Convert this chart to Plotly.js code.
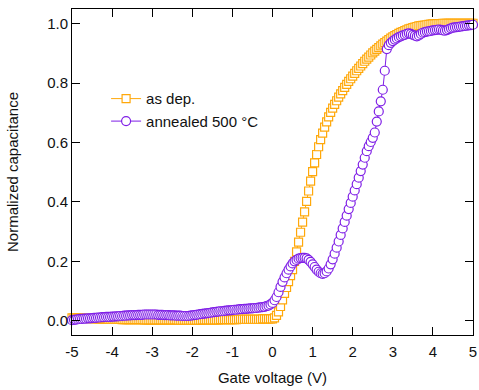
<!DOCTYPE html>
<html>
<head>
<meta charset="utf-8">
<script src="https://cdn.plot.ly/plotly-3.0.1.min.js"></script>
<style>html,body{margin:0;padding:0;background:#fff;}#chart{width:479px;height:390px;}</style>
</head>
<body>
<div id="chart"></div>
<script>
// Gate voltage sweep (V)
const gateVoltage = [
-5.00,-4.95,-4.90,-4.85,-4.80,-4.75,-4.70,-4.65,-4.60,-4.55,
-4.50,-4.45,-4.40,-4.35,-4.30,-4.25,-4.20,-4.15,-4.10,-4.05,
-4.00,-3.95,-3.90,-3.85,-3.80,-3.75,-3.70,-3.65,-3.60,-3.55,
-3.50,-3.45,-3.40,-3.35,-3.30,-3.25,-3.20,-3.15,-3.10,-3.05,
-3.00,-2.95,-2.90,-2.85,-2.80,-2.75,-2.70,-2.65,-2.60,-2.55,
-2.50,-2.45,-2.40,-2.35,-2.30,-2.25,-2.20,-2.15,-2.10,-2.05,
-2.00,-1.95,-1.90,-1.85,-1.80,-1.75,-1.70,-1.65,-1.60,-1.55,
-1.50,-1.45,-1.40,-1.35,-1.30,-1.25,-1.20,-1.15,-1.10,-1.05,
-1.00,-0.95,-0.90,-0.85,-0.80,-0.75,-0.70,-0.65,-0.60,-0.55,
-0.50,-0.45,-0.40,-0.35,-0.30,-0.25,-0.20,-0.15,-0.10,-0.05,
0.00,0.05,0.10,0.15,0.20,0.25,0.30,0.35,0.40,0.45,
0.50,0.55,0.60,0.65,0.70,0.75,0.80,0.85,0.90,0.95,
1.00,1.05,1.10,1.15,1.20,1.25,1.30,1.35,1.40,1.45,
1.50,1.55,1.60,1.65,1.70,1.75,1.80,1.85,1.90,1.95,
2.00,2.05,2.10,2.15,2.20,2.25,2.30,2.35,2.40,2.45,
2.50,2.55,2.60,2.65,2.70,2.75,2.80,2.85,2.90,2.95,
3.00,3.05,3.10,3.15,3.20,3.25,3.30,3.35,3.40,3.45,
3.50,3.55,3.60,3.65,3.70,3.75,3.80,3.85,3.90,3.95,
4.00,4.05,4.10,4.15,4.20,4.25,4.30,4.35,4.40,4.45,
4.50,4.55,4.60,4.65,4.70,4.75,4.80,4.85,4.90,4.95,
5.00];

// Normalized capacitance, as deposited
const asDep = [
0.010,0.010,0.009,0.009,0.009,0.008,0.008,0.008,0.008,0.007,
0.007,0.007,0.007,0.006,0.006,0.006,0.006,0.006,0.005,0.005,
0.005,0.005,0.005,0.005,0.005,0.004,0.004,0.004,0.004,0.004,
0.004,0.004,0.004,0.004,0.004,0.004,0.003,0.003,0.003,0.003,
0.003,0.003,0.003,0.003,0.003,0.003,0.003,0.003,0.003,0.003,
0.003,0.003,0.003,0.002,0.002,0.002,0.002,0.002,0.002,0.002,
0.002,0.002,0.002,0.002,0.002,0.003,0.003,0.003,0.003,0.003,
0.003,0.003,0.003,0.003,0.004,0.004,0.004,0.004,0.004,0.004,
0.004,0.004,0.004,0.005,0.005,0.005,0.005,0.005,0.005,0.005,
0.005,0.005,0.005,0.005,0.005,0.006,0.006,0.006,0.006,0.006,
0.006,0.010,0.018,0.030,0.048,0.070,0.092,0.112,0.132,0.152,
0.172,0.200,0.232,0.265,0.298,0.332,0.367,0.402,0.437,0.470,
0.502,0.532,0.560,0.586,0.610,0.632,0.652,0.670,0.687,0.702,
0.716,0.729,0.741,0.753,0.764,0.775,0.786,0.796,0.806,0.815,
0.824,0.833,0.842,0.850,0.858,0.866,0.874,0.881,0.888,0.895,
0.902,0.908,0.914,0.920,0.926,0.932,0.937,0.942,0.947,0.952,
0.956,0.960,0.964,0.968,0.971,0.974,0.977,0.980,0.983,0.985,
0.987,0.989,0.991,0.993,0.994,0.995,0.996,0.997,0.998,0.999,
1.000,1.000,1.001,1.001,1.001,1.002,1.002,1.002,1.002,1.002,
1.002,1.002,1.002,1.002,1.002,1.002,1.002,1.002,1.002,1.002,
1.002];

// Normalized capacitance, annealed 500 °C
const annealed = [
0.002,0.003,0.004,0.005,0.006,0.006,0.007,0.007,0.008,0.008,
0.009,0.010,0.010,0.011,0.011,0.012,0.012,0.013,0.013,0.013,
0.014,0.014,0.015,0.015,0.016,0.016,0.017,0.017,0.018,0.018,
0.019,0.019,0.019,0.020,0.020,0.020,0.021,0.021,0.021,0.021,
0.021,0.021,0.021,0.020,0.020,0.020,0.019,0.019,0.019,0.018,
0.018,0.018,0.017,0.017,0.017,0.016,0.016,0.016,0.016,0.017,
0.018,0.019,0.020,0.021,0.022,0.023,0.024,0.025,0.026,0.027,
0.028,0.029,0.030,0.031,0.032,0.032,0.033,0.034,0.035,0.035,
0.036,0.037,0.037,0.038,0.039,0.039,0.040,0.040,0.041,0.042,
0.042,0.043,0.043,0.044,0.045,0.046,0.047,0.049,0.051,0.055,
0.060,0.069,0.080,0.096,0.114,0.131,0.146,0.160,0.172,0.183,
0.193,0.200,0.205,0.209,0.211,0.212,0.212,0.210,0.205,0.198,
0.190,0.181,0.172,0.165,0.160,0.158,0.160,0.166,0.176,0.190,
0.207,0.226,0.246,0.267,0.289,0.311,0.333,0.354,0.376,0.397,
0.418,0.439,0.460,0.482,0.504,0.526,0.549,0.571,0.588,0.602,
0.616,0.634,0.671,0.705,0.739,0.778,0.842,0.915,0.928,0.936,
0.942,0.947,0.951,0.955,0.958,0.961,0.963,0.966,0.968,0.966,
0.963,0.960,0.958,0.961,0.966,0.970,0.972,0.974,0.975,0.976,
0.978,0.979,0.980,0.981,0.980,0.978,0.977,0.979,0.982,0.985,
0.987,0.988,0.989,0.990,0.991,0.992,0.993,0.994,0.995,0.996,
0.997];

const seriesNames = ['as dep.', 'annealed 500 °C'];
const xTicks = [-5,-4,-3,-2,-1,0,1,2,3,4,5];
const yTicks = [0.0,0.2,0.4,0.6,0.8,1.0];

const ORANGE = '#FFA80A';
const PURPLE = '#7F1FE6';
const FONT = 'Liberation Sans, Arial, Helvetica, sans-serif';
const FS = 15;

const traces = [
  {
    x: gateVoltage, y: asDep, name: seriesNames[0],
    type: 'scatter', mode: 'lines+markers', cliponaxis: false,
    line: {color: ORANGE, width: 1},
    marker: {symbol: 'square', size: 8, color: '#ffffff', line: {color: ORANGE, width: 1.2}}
  },
  {
    x: gateVoltage, y: annealed, name: seriesNames[1],
    type: 'scatter', mode: 'lines+markers', cliponaxis: false,
    line: {color: PURPLE, width: 1},
    marker: {symbol: 'circle', size: 9, color: '#ffffff', line: {color: PURPLE, width: 1.2}}
  }
];

const axisCommon = {
  showline: true, linecolor: '#000', linewidth: 1,
  mirror: 'allticks', ticks: 'inside', ticklen: 8, tickwidth: 1, tickcolor: '#000',
  showgrid: false, zeroline: false,
  tickfont: {family: FONT, size: FS, color: '#111'}
};

const layout = {
  width: 479, height: 390,
  margin: {l: 72, r: 6, t: 9, b: 55},
  paper_bgcolor: '#fff', plot_bgcolor: '#fff',
  font: {family: FONT, size: FS, color: '#111'},
  showlegend: true,
  legend: {
    x: 0.085, y: 0.775, xanchor: 'left', yanchor: 'top',
    bgcolor: 'rgba(0,0,0,0)', borderwidth: 0,
    font: {family: FONT, size: FS, color: '#111'},
    tracegroupgap: 0
  },
  xaxis: Object.assign({}, axisCommon, {
    range: [-5, 5], tickvals: xTicks, ticktext: xTicks.map(String),
    ticklabelstandoff: 3,
    title: {text: 'Gate voltage (V)', font: {family: FONT, size: FS, color: '#111'}, standoff: 13}
  }),
  yaxis: Object.assign({}, axisCommon, {
    range: [-0.048, 1.05], tickvals: yTicks, ticktext: yTicks.map(v => v.toFixed(1)),
    title: {text: 'Normalized capacitance', font: {family: FONT, size: FS, color: '#111'}, standoff: 24}
  })
};

Plotly.newPlot('chart', traces, layout, {displayModeBar: false, staticPlot: true});
</script>
</body>
</html>
